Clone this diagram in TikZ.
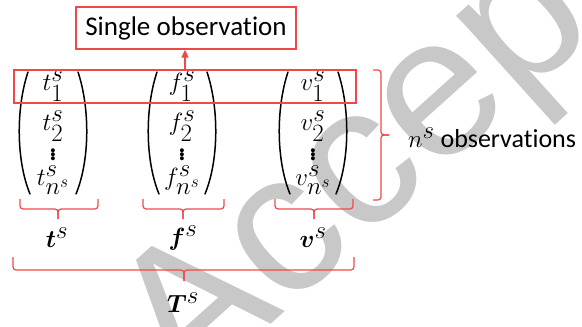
\documentclass[tikz,border=0pt]{standalone}
\usepackage{fontspec}
\setmainfont[Ligatures=NoCommon]{Carlito}
\newfontfamily\stampfont{Liberation Sans}
\usepackage{amsmath}
\usetikzlibrary{arrows.meta, positioning}

\definecolor{boxred}{RGB}{240,72,72}
\definecolor{stampgray}{RGB}{200,200,200}

\tikzset{
    redbox/.style={draw=boxred, line width=1.3pt, inner sep=0pt},
    bracket/.style={draw=boxred, line width=1.2pt, rounded corners=3pt},
    entry/.style={inner sep=0pt, font=\fontsize{33}{39}\selectfont},
    paren/.style={line width=1.5pt, line cap=round},
}

\begin{document}
\begin{tikzpicture}[x=1pt, y=-1pt]

        \useasboundingbox (0,0) rectangle (582,327);

        % ==========================================
        % STAMP IN THE BACKGROUND
        % ==========================================
        \begin{scope}
            \clip (0,0) rectangle (582,327);
            \node[stampgray, rotate=42, anchor=base west, inner sep=0pt,
                font=\stampfont\fontsize{200}{200}\selectfont] (stamp) at (186.5,401) {Accepted};
        \end{scope}


        % ==========================================
        % COLUMN VECTORS t, f, v
        % ==========================================

        % entries and parentheses of each column
        \foreach \v/\c in {t/53, f/182, v/313} {
            \node[entry] (\v1) at (\c,86) {$\v_1^s$};
            \node[entry] (\v2) at (\c,126) {$\v_2^s$};
            \node[entry] (\v dots) at (\c,152) {$\vdots$};
            \node[entry] (\v n) at (\c,180) {$\v_{n^s}^s$};
            \draw[paren] ({\c-25},72) .. controls ({\c-37},108) and ({\c-37},160) .. ({\c-23},194);
            \draw[paren] ({\c+25},72) .. controls ({\c+37},108) and ({\c+37},160) .. ({\c+23},194);
        }


        % ==========================================
        % SINGLE OBSERVATION
        % ==========================================

        % box round the first row
        \node[redbox, minimum width=342pt, minimum height=33pt] (rowbox) at (185,86.5) {};

        % box with the text
        \node[redbox, minimum width=220pt, minimum height=42pt,
            font=\fontsize{27}{32}\selectfont] (single) at (186,28) {Single observation};

        \draw[boxred, line width=1.3pt, -{Triangle[width=7pt, length=8pt]}]
            (rowbox.north) -- (rowbox.north |- single.south);


        % ==========================================
        % BRACES AND NAMES
        % ==========================================

        % n^s observations
        \draw[bracket] (373,70) -| (381,135) -- (389,135);
        \draw[bracket] (373,200) -| (381,135) -- (389,135);
        \node[anchor=west, inner sep=0pt, font=\fontsize{26}{31}\selectfont]
            (nobs) at (408,138) {{\fontsize{33}{39}\selectfont$n^s$} observations};

        % one brace under each column
        \foreach \a/\m/\b in {20/58/98, 143/183/224, 275/314/353} {
            \draw[bracket] (\a,199) |- (\m,209) -- (\m,219);
            \draw[bracket] (\b,199) |- (\m,209) -- (\m,219);
        }
        \node[entry] (tvec) at (57,238) {$\boldsymbol{t}^s$};
        \node[entry] (fvec) at (183,238) {$\boldsymbol{f}^s$};
        \node[entry] (vvec) at (313,238) {$\boldsymbol{v}^s$};

        % brace under everything
        \draw[bracket] (13,257) |- (184,270) -- (184,281);
        \draw[bracket] (354,257) |- (184,270) -- (184,281);
        \node[entry] (Tmat) at (183,303) {$\boldsymbol{T}^s$};

\end{tikzpicture}
\end{document}
